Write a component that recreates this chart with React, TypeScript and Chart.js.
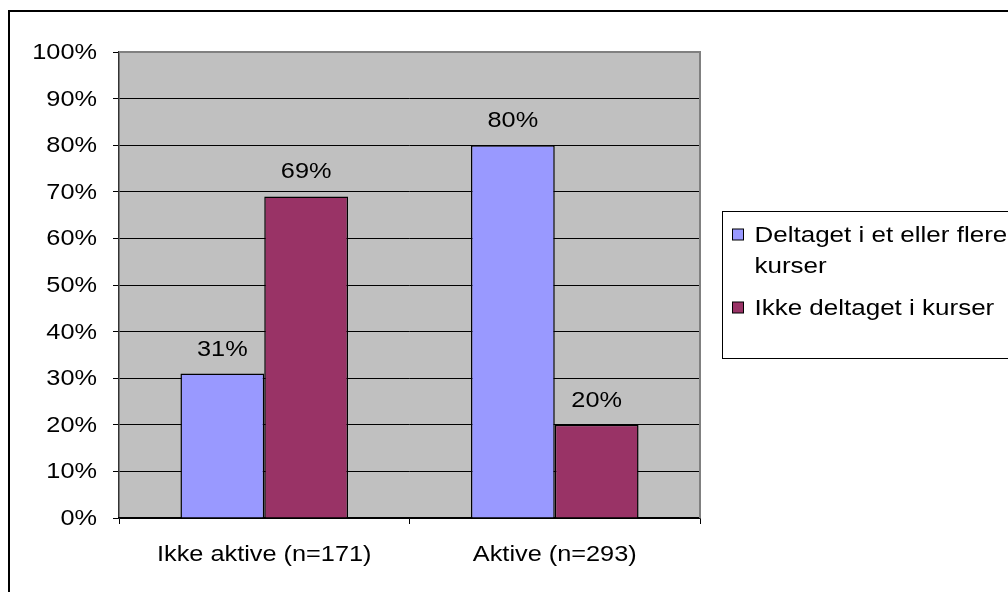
import React, { useEffect, useRef } from "react";
import { Chart, registerables } from "chart.js";

Chart.register(...registerables);

const categories = ["Ikke aktive (n=171)", "Aktive (n=293)"];
const seriesNames = ["Deltaget i et eller flere kurser", "Ikke deltaget i kurser"];
const deltaget = [31, 80];
const ikkeDeltaget = [69, 20];
const seriesColors = ["#9999FF", "#993366"];
const yTicks = [0, 10, 20, 30, 40, 50, 60, 70, 80, 90, 100];

const FONT = "'Liberation Sans', Arial, sans-serif";
const SX = 1.15;

function drawText(
  ctx: CanvasRenderingContext2D,
  text: string,
  x: number,
  y: number,
  align: CanvasTextAlign,
  baseline: CanvasTextBaseline,
  size: number
) {
  ctx.save();
  ctx.font = `${size}px ${FONT}`;
  ctx.fillStyle = "#000";
  ctx.textAlign = align;
  ctx.textBaseline = baseline;
  ctx.translate(x, y);
  ctx.scale(SX, 1);
  ctx.fillText(text, 0, 0);
  ctx.restore();
}

const plotBgPlugin = {
  id: "plotBg",
  beforeDraw(chart: any) {
    const { ctx, chartArea: a } = chart;
    ctx.save();
    ctx.fillStyle = "#C0C0C0";
    ctx.fillRect(a.left, a.top, a.right - a.left, a.bottom - a.top);
    ctx.restore();
  },
  afterDraw(chart: any) {
    const { ctx, chartArea: a } = chart;
    ctx.save();
    ctx.strokeStyle = "#808080";
    ctx.lineWidth = 2;
    ctx.beginPath();
    ctx.moveTo(a.left, a.top);
    ctx.lineTo(a.right, a.top);
    ctx.lineTo(a.right, a.bottom);
    ctx.stroke();
    ctx.restore();
  },
};

const axisLabelsPlugin = {
  id: "axisLabels",
  afterDraw(chart: any) {
    const { ctx } = chart;
    const ys = chart.scales.y;
    const xs = chart.scales.x;
    yTicks.forEach((v) => {
      drawText(ctx, `${v}%`, ys.right - 22, ys.getPixelForValue(v) + 1, "right", "middle", 22);
    });
    categories.forEach((c, i) => {
      drawText(ctx, c, xs.getPixelForValue(i), xs.top + 37, "center", "middle", 22);
    });
  },
};

const labelsPlugin = {
  id: "barLabels",
  afterDatasetsDraw(chart: any) {
    const { ctx } = chart;
    chart.data.datasets.forEach((ds: any, i: number) => {
      const meta = chart.getDatasetMeta(i);
      meta.data.forEach((bar: any, j: number) => {
        drawText(ctx, `${ds.data[j]}%`, bar.x, bar.y - 18, "center", "alphabetic", 22);
      });
    });
  },
};

const legendPlugin = {
  id: "customLegend",
  afterDraw(chart: any) {
    const { ctx } = chart;
    const a = chart.chartArea;
    const boxX = a.right + 22.5;
    const boxY = 211.5;
    const size = 22.6;
    ctx.save();
    ctx.strokeStyle = "#000";
    ctx.lineWidth = 1;
    ctx.strokeRect(boxX, boxY, 400, 147);
    ctx.font = `${size}px ${FONT}`;
    const textX = boxX + 32;
    const maxW = 262 / SX;
    let baseline = 242;
    chart.data.datasets.forEach((ds: any) => {
      const words = String(ds.label).split(" ");
      const lines: string[] = [];
      let cur = "";
      words.forEach((w) => {
        const t = cur ? cur + " " + w : w;
        if (ctx.measureText(t).width > maxW && cur) {
          lines.push(cur);
          cur = w;
        } else cur = t;
      });
      if (cur) lines.push(cur);
      ctx.fillStyle = ds.backgroundColor;
      ctx.fillRect(boxX + 10, baseline - 13, 11, 11);
      ctx.strokeStyle = "#000";
      ctx.strokeRect(boxX + 10, baseline - 13, 11, 11);
      lines.forEach((ln, k) => {
        drawText(ctx, ln, textX, baseline + k * 31, "left", "alphabetic", size);
      });
      baseline += (lines.length - 1) * 31 + 42;
    });
    ctx.restore();
  },
};

export default function App() {
  const ref = useRef<HTMLCanvasElement | null>(null);
  useEffect(() => {
    if (!ref.current) return;
    const chart = new Chart(ref.current, {
      type: "bar",
      data: {
        labels: categories,
        datasets: [
          {
            label: seriesNames[0],
            data: deltaget,
            backgroundColor: seriesColors[0],
            borderColor: "#000",
            borderWidth: 1.5,
            categoryPercentage: 0.577,
            barPercentage: 1,
          },
          {
            label: seriesNames[1],
            data: ikkeDeltaget,
            backgroundColor: seriesColors[1],
            borderColor: "#000",
            borderWidth: 1.5,
            categoryPercentage: 0.577,
            barPercentage: 1,
          },
        ],
      },
      options: {
        responsive: false,
        animation: false,
        layout: { padding: { left: 0, top: 52, right: 308, bottom: 0 } },
        plugins: { legend: { display: false }, tooltip: { enabled: false } },
        scales: {
          y: {
            min: 0,
            max: 100,
            afterFit: (s: any) => {
              s.width = 119;
            },
            afterBuildTicks: (s: any) => {
              s.ticks = yTicks.map((v) => ({ value: v }));
            },
            ticks: { display: false },
            grid: {
              color: "#000",
              lineWidth: 1,
              tickLength: 6,
            },
            border: { color: "#333", width: 1.5 },
          },
          x: {
            afterFit: (s: any) => {
              s.height = 74;
            },
            ticks: { display: false },
            grid: {
              offset: true,
              drawOnChartArea: false,
              color: "#000",
              tickLength: 6,
            },
            border: { color: "#000", width: 1.5 },
          },
        },
      },
      plugins: [plotBgPlugin, labelsPlugin, axisLabelsPlugin, legendPlugin],
    });
    return () => chart.destroy();
  }, []);

  return (
    <div
      style={{
        position: "fixed",
        left: 0,
        top: 0,
        width: 1008,
        height: 592,
        overflow: "hidden",
        background: "#fff",
      }}
    >
      <div
        style={{
          position: "absolute",
          left: 8,
          top: 10,
          width: 1100,
          height: 700,
          border: "2px solid #000",
          boxSizing: "border-box",
        }}
      />
      <canvas
        ref={ref}
        width={1008}
        height={592}
        style={{ position: "absolute", left: 0, top: 0 }}
      />
    </div>
  );
}
